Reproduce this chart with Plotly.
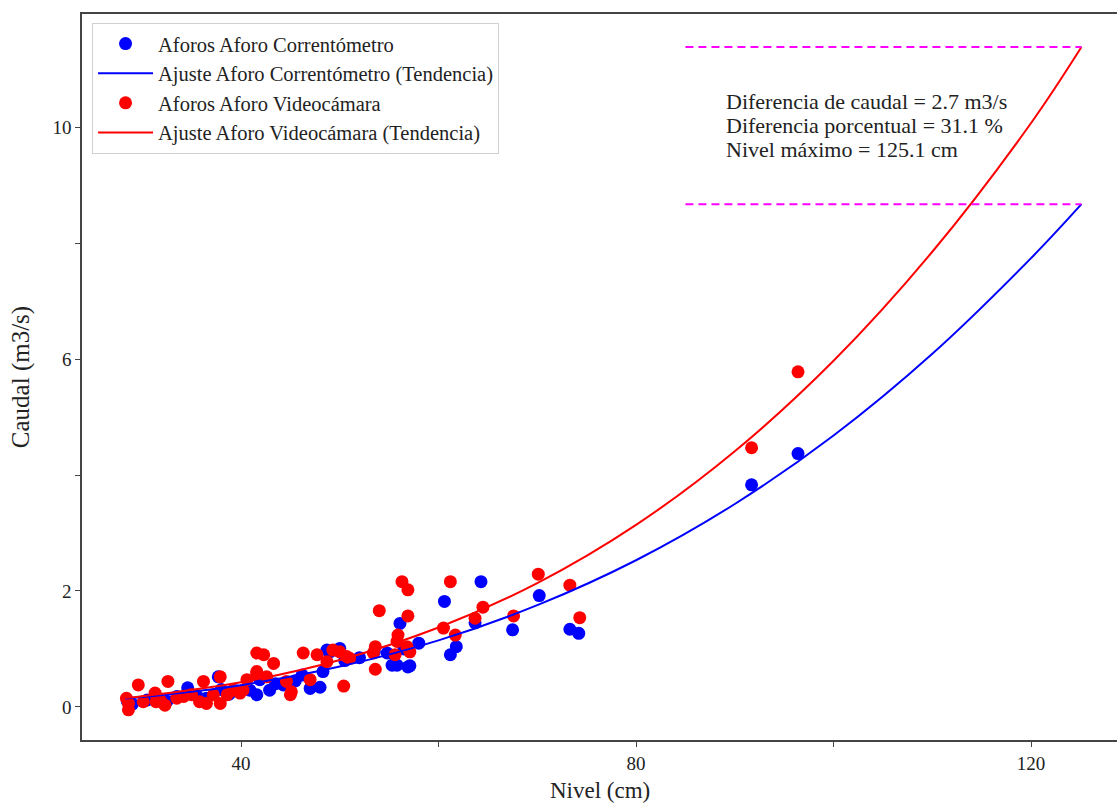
import plotly.graph_objects as go

# --- Data ---
corr_nivel = [28.5, 29.0, 30.5, 31.5, 32.5, 33.5, 34.6, 35.5, 36.5, 37.7, 38.0, 38.8, 39.5,
              40.9, 41.6, 41.9, 42.9, 43.5, 44.3, 45.5, 46.2, 47.0, 48.0, 48.3, 48.7, 49.0,
              50.0, 50.5, 52.0, 53.5, 54.8, 55.3, 55.8, 56.1, 56.9, 57.1, 56.5, 58.0, 60.6,
              61.2, 61.8, 63.7, 64.3, 67.5, 70.2, 73.3, 74.2, 91.7, 96.4]
corr_caudal = [0.10, 0.05, 0.12, 0.15, 0.10, 0.18, 0.33, 0.20, 0.15, 0.52, 0.30, 0.22, 0.28,
               0.29, 0.21, 0.47, 0.29, 0.40, 0.38, 0.45, 0.55, 0.32, 0.34, 0.61, 0.98, 0.95,
               1.01, 0.80, 0.85, 0.95, 0.93, 0.72, 0.72, 1.44, 0.69, 0.71, 1.00, 1.10, 1.82,
               0.90, 1.04, 1.45, 2.16, 1.33, 1.92, 1.34, 1.27, 3.83, 4.37]

video_nivel = [28.4, 28.6, 28.6, 29.6, 30.1, 31.3, 31.4, 31.8, 32.3, 32.6, 33.5, 34.2, 35.0,
               35.8, 36.2, 36.5, 37.2, 37.9, 37.9, 38.6, 39.2, 39.9, 40.2, 40.6, 41.6, 41.6,
               41.6, 42.3, 42.6, 43.3, 44.6, 45.0, 45.1, 46.3, 47.0, 47.7, 48.7, 49.3, 50.0,
               50.7, 50.4, 51.0, 53.4, 53.6, 53.6, 54.0, 55.6, 55.8, 55.9, 56.3, 56.8, 56.9,
               56.9, 57.1, 60.5, 61.2, 61.7, 63.7, 64.5, 67.6, 70.1, 73.3, 74.3, 91.7, 96.4]
video_caudal = [0.15, 0.06, -0.05, 0.38, 0.09, 0.24, 0.09, 0.12, 0.03, 0.44, 0.15, 0.18, 0.21,
                0.09, 0.44, 0.06, 0.21, 0.52, 0.06, 0.21, 0.29, 0.24, 0.29, 0.47, 0.58, 0.93,
                0.61, 0.90, 0.52, 0.75, 0.44, 0.21, 0.26, 0.93, 0.47, 0.90, 0.78, 0.98, 0.95,
                0.87, 0.36, 0.84, 0.93, 1.04, 0.65, 1.66, 0.90, 1.13, 1.24, 2.16, 1.04, 2.02,
                1.57, 0.95, 1.36, 2.16, 1.24, 1.53, 1.72, 1.57, 2.29, 2.10, 1.54, 4.47, 5.78]

# Trend curves
fit_nivel = [28.3, 30, 40, 50, 60, 70, 80, 90, 100, 110, 120, 125.1]
fit_corr = [0.145, 0.171, 0.376, 0.696, 1.148, 1.755, 2.53, 3.50, 4.68, 6.09, 7.74, 8.67]
fit_video = [0.158, 0.186, 0.426, 0.811, 1.371, 2.136, 3.14, 4.41, 5.97, 7.85, 10.07, 11.38]

x_ticks = [40, 60, 80, 100, 120]
x_labels = ["40", "", "80", "", "120"]
y_ticks = [0, 2, 4, 6, 8, 10]
y_labels = ["0", "2", "", "6", "", "10"]

diff_lines = ["Diferencia de caudal = 2.7 m3/s",
              "Diferencia porcentual = 31.1 %",
              "Nivel máximo = 125.1 cm"]
dash_start = 85.0

FONT = "Liberation Serif, Times New Roman, serif"
BLUE = "#0000ff"
RED = "#ff0000"

fig = go.Figure()
fig.add_trace(go.Scatter(x=corr_nivel, y=corr_caudal, mode="markers",
                         name="Aforos Aforo Correntómetro", legendrank=1,
                         marker=dict(color=BLUE, size=13)))
fig.add_trace(go.Scatter(x=video_nivel, y=video_caudal, mode="markers",
                         name="Aforos Aforo Videocámara", legendrank=3,
                         marker=dict(color=RED, size=13)))
fig.add_trace(go.Scatter(x=fit_nivel, y=fit_corr, mode="lines", line_shape="spline",
                         name="Ajuste Aforo Correntómetro (Tendencia)", legendrank=2,
                         line=dict(color=BLUE, width=2)))
fig.add_trace(go.Scatter(x=fit_nivel, y=fit_video, mode="lines", line_shape="spline",
                         name="Ajuste Aforo Videocámara (Tendencia)", legendrank=4,
                         line=dict(color=RED, width=2)))

# magenta dashed lines at the maximum of each trend
for yv in (fit_video[-1], fit_corr[-1]):
    fig.add_trace(go.Scatter(x=[dash_start, fit_nivel[-1]], y=[yv, yv], mode="lines",
                             showlegend=False, hoverinfo="skip",
                             line=dict(color="#ff00ff", width=2, dash="8px,5px")))

# three-line text block centred between the two maxima (24 px line spacing)
y_mid = (fit_video[-1] + fit_corr[-1]) / 2
line_step = 24 / 58.0
for i, txt in enumerate(diff_lines):
    fig.add_annotation(x=89.0, y=y_mid + (1 - i) * line_step, xref="x", yref="y",
                       text=txt, showarrow=False, xanchor="left", yanchor="middle",
                       align="left", borderpad=0,
                       font=dict(family=FONT, size=22, color="#222"))

# x-axis title placed below the tick labels
fig.add_annotation(x=0.5, y=0, xref="paper", yref="paper", yshift=-50,
                   text="Nivel (cm)", showarrow=False, xanchor="center", yanchor="middle",
                   borderpad=0, font=dict(family=FONT, size=23, color="#222"))

axis_common = dict(showgrid=False, zeroline=False, showline=True, linecolor="#444",
                   linewidth=1.5, ticks="outside", ticklen=5, tickcolor="#444",
                   automargin=False,
                   tickfont=dict(family=FONT, size=19, color="#222"))

fig.update_layout(
    width=1117, height=804,
    margin=dict(l=82, r=0, t=14, b=64),
    paper_bgcolor="white", plot_bgcolor="white",
    font=dict(family=FONT, color="#222"),
    xaxis=dict(range=[23.9, 128.7], tickmode="array", tickvals=x_ticks, ticktext=x_labels,
               mirror=True, **axis_common),
    yaxis=dict(range=[-0.57, 11.95], tickmode="array", tickvals=y_ticks, ticktext=y_labels,
               title=dict(text="Caudal (m3/s)", font=dict(family=FONT, size=25), standoff=16),
               **axis_common),
    legend=dict(x=0.0097, y=0.988, xanchor="left", yanchor="top", bgcolor="white",
                bordercolor="#d0d0d0", borderwidth=1, itemwidth=55,
                font=dict(family=FONT, size=20.5, color="#222"), tracegroupgap=0),
    showlegend=True,
)

# remove the default page margin so the figure fills the window exactly
fig.write_html("out.html",
               config={"displayModeBar": False},
               post_script="document.body.style.margin='0';"
                           "document.body.style.overflow='hidden';")
